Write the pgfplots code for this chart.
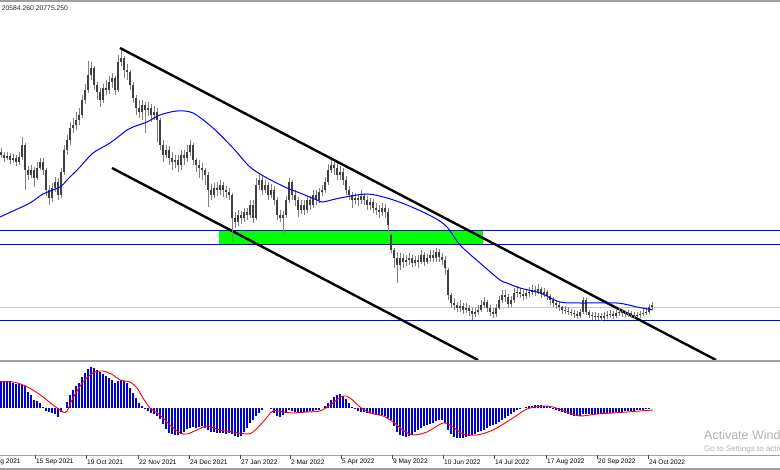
\documentclass[border=0pt]{standalone}
\usepackage{pgfplots}
\pgfplotsset{compat=1.18}
\usepackage{pgfplotstable}
\usepackage{fontspec}
\setmainfont{Liberation Sans}

% candles: x (bar position), open, close, high, low in chart pixel units (down = lower price); m = MACD histogram
\pgfplotstableread{
x o c h l m
1 152 155 148 158 27
4 155 158 152 162 27
7 158 156 152 160 27
10 156 160 153 164 27
13 160 158 154 163 25
16 158 162 155 166 24
19 162 157 152 165 24
22 157 145 137 160 23
25 145 170 143 190 22
28 170 175 166 180 16
31 175 170 165 178 13
34 170 178 167 187 8
37 178 168 162 180 7
40 168 162 158 170 5
43 162 170 158 175 1
46 170 190 168 196 -3
49 190 198 185 205 -4
52 198 188 183 202 -5
55 188 182 177 192 -6
58 182 195 178 200 -9
61 195 172 168 198 -4
64 172 150 145 175 0
67 150 140 135 155 6
70 140 128 122 145 13
73 128 125 118 133 18
76 125 120 112 130 22
79 120 115 108 125 25
82 115 100 95 118 31
85 100 90 84 104 35
88 90 75 61 93 39
91 75 68 62 80 41
94 68 85 66 90 40
97 85 92 82 100 38
100 92 100 88 107 36
103 100 88 84 103 34
106 88 90 80 95 32
109 90 82 76 94 30
112 82 78 73 88 28
115 78 90 76 95 25
118 90 62 55 92 27
121 62 58 50 66 28
124 58 70 56 78 27
127 70 72 64 80 25
130 72 85 70 90 20
133 85 98 82 103 15
136 98 108 95 115 10
139 108 112 100 118 5
142 112 105 100 120 2
145 105 110 102 133 -1
148 110 108 102 116 -3
151 108 115 104 122 -5
154 115 112 106 120 -6
157 112 120 108 142 -8
160 120 145 118 150 -11
163 145 155 140 162 -16
166 155 150 145 158 -21
169 150 158 146 165 -25
172 158 162 152 170 -26
175 162 160 155 168 -27
178 160 165 155 172 -27
181 165 155 150 170 -26
184 155 158 150 165 -24
187 158 152 145 162 -21
190 152 145 140 156 -20
193 145 160 143 165 -19
196 160 165 158 172 -20
199 165 168 160 178 -19
202 168 170 163 180 -18
205 170 175 168 185 -20
208 175 190 172 207 -22
211 190 195 184 200 -24
214 195 188 183 198 -24
217 188 190 182 196 -25
220 190 185 180 195 -25
223 185 190 182 197 -25
226 190 192 186 198 -26
229 192 195 188 200 -25
232 195 218 193 242 -26
235 218 222 212 228 -28
238 222 215 210 226 -29
241 215 218 211 224 -28
244 218 212 208 222 -24
247 212 215 208 220 -20
250 215 205 200 218 -15
253 205 218 200 223 -12
256 218 185 178 220 -8
259 185 180 175 190 -5
262 180 190 176 195 -2
265 190 185 180 193 0
268 185 195 182 200 0
271 195 190 184 198 -1
274 190 200 186 205 -5
277 200 215 197 220 -8
280 215 218 210 222 -9
283 218 215 211 235 -7
286 215 200 196 218 -5
289 200 182 178 203 -2
292 182 195 180 200 -3
295 195 200 190 206 -4
298 200 210 197 217 -5
301 210 205 200 214 -5
304 205 210 200 215 -4
307 210 200 196 213 -4
310 200 205 196 210 -3
313 205 195 190 208 -3
316 195 200 190 205 -2
319 200 192 188 203 -2
322 192 190 185 196 0
325 190 182 177 193 2
328 182 170 164 185 5
331 170 165 160 173 8
334 165 168 162 175 11
337 168 175 163 180 13
340 175 172 166 180 14
343 172 180 168 185 12
346 180 190 176 195 9
349 190 195 186 200 5
352 195 200 192 208 1
355 200 198 193 204 -1
358 198 200 194 206 -3
361 200 196 190 204 -4
364 196 200 193 205 -4
367 200 205 196 210 -5
370 205 202 198 210 -5
373 202 208 199 213 -6
376 208 210 203 215 -6
379 210 212 205 218 -7
382 212 208 203 216 -7
385 208 212 204 218 -8
388 212 225 208 232 -10
391 235 250 233 253 -12
394 250 258 248 268 -18
397 258 265 252 283 -24
400 265 258 253 270 -27
403 258 262 254 268 -28
406 262 260 255 266 -29
409 260 258 253 265 -28
412 258 263 255 267 -27
415 263 260 256 266 -24
418 260 262 255 268 -22
421 262 255 250 264 -20
424 255 262 252 266 -18
427 262 258 254 264 -17
430 258 255 250 262 -16
433 255 258 250 262 -15
436 258 252 248 262 -13
439 252 257 249 262 -12
442 257 260 253 265 -12
445 260 268 256 275 -15
448 270 295 268 300 -22
451 295 303 293 308 -26
454 303 305 298 310 -29
457 305 308 302 312 -30
460 308 306 300 312 -30
463 306 310 303 314 -30
466 310 308 303 313 -29
469 308 311 305 316 -28
472 311 314 308 320 -27
475 314 312 308 317 -26
478 312 310 305 315 -24
481 310 305 300 312 -23
484 305 302 297 308 -22
487 302 308 300 312 -20
490 308 312 305 316 -18
493 312 314 308 318 -17
496 314 308 304 317 -16
499 308 300 296 310 -14
502 300 295 290 303 -12
505 295 297 290 302 -10
508 297 304 294 308 -8
511 304 300 296 307 -6
514 300 293 288 303 -4
517 293 292 286 297 -2
520 292 294 288 298 -1
523 294 296 290 300 0
526 296 293 289 299 1
529 293 292 287 297 2
532 292 290 285 295 2
535 290 292 286 296 3
538 292 289 284 294 3
541 289 294 287 298 3
544 294 292 288 297 2
547 292 296 290 300 2
550 296 300 294 305 1
553 300 303 297 307 -1
556 303 305 300 309 -2
559 305 307 302 311 -3
562 307 310 306 314 -4
565 310 311 306 314 -5
568 311 312 307 315 -6
571 312 313 309 316 -7
574 313 314 310 318 -8
577 314 316 311 319 -8
580 316 312 309 318 -8
583 312 300 297 314 -6
586 300 312 298 315 -6
589 312 315 310 318 -6
592 315 316 312 320 -6
595 316 317 312 320 -6
598 317 316 313 320 -6
601 316 318 313 321 -6
604 318 316 312 320 -5
607 316 315 311 319 -5
610 315 314 310 318 -5
613 314 316 311 319 -5
616 316 313 310 318 -4
619 313 312 308 316 -4
622 312 313 309 317 -4
625 313 314 310 317 -3
628 314 313 310 317 -3
631 313 315 311 318 -3
634 315 316 312 319 -3
637 316 315 312 318 -2
640 315 314 311 318 -2
643 314 313 309 316 -2
646 313 312 308 315 -1
649 312 307 304 314 -1
652 307 305 302 309 0
}\candles

\pgfplotstableread{
x y
0 217
13 211
30 203
43 194
60 187
67 180
80 167
93 153
110 143
127 130
133 127
147 122
160 115
177 111
193 113
213 128
233 148
250 167
267 178
287 188
300 193
317 200
323 202
340 198
367 194
387 198
407 205
433 217
447 227
460 245
480 263
500 280
507 283
520 288
540 293
560 302
580 303
617 303
637 307
653 310
}\ma

\pgfplotstableread{
x s
0 26
13 26
23 23
33 18
43 11
53 3
63 -4
67 -3
73 10
83 26
93 35
103 37
113 33
120 28
130 26
137 20
143 10
150 0
160 -7
170 -17
180 -25
187 -26
197 -22
207 -18
220 -22
233 -24
247 -26
253 -24
263 -14
273 -3
283 -4
293 -5
307 -4
320 -3
330 3
343 12
350 10
360 1
370 -5
383 -8
393 -14
403 -22
413 -27
427 -24
443 -15
453 -19
463 -26
477 -27
493 -22
513 -10
527 -1
543 2
553 1
567 -4
580 -8
597 -6
613 -5
627 -4
653 -2
}\signal

\definecolor{mtblue}{RGB}{0,0,255}
\definecolor{mtgreen}{RGB}{0,255,0}
\definecolor{mtgray}{RGB}{160,160,160}
\definecolor{asklin}{RGB}{200,200,200}

\begin{document}
\begin{tikzpicture}
\begin{axis}[at={(0pt,0pt)}, anchor=south west, scale only axis,
  width=780pt, height=470pt, xmin=0, xmax=780, ymin=0, ymax=470,
  y dir=reverse, axis lines=none, xtick=\empty, ytick=\empty]
% levels
\addplot[fill=mtgreen, draw=none, forget plot] coordinates {(219,231) (483,231) (483,245) (219,245) (219,231)};
\addplot[color=asklin, line width=0.8pt, forget plot] coordinates {(0,307) (780,307)};
\addplot[color=mtblue, line width=1pt, forget plot] coordinates {(0,231) (780,231)};
\addplot[color=mtblue, line width=1pt, forget plot] coordinates {(0,245) (780,245)};
\addplot[color=mtblue, line width=1pt, forget plot] coordinates {(0,320.5) (780,320.5)};
% channel
\addplot[black, line width=2.4pt, forget plot] coordinates {(120,48) (716,360)};
\addplot[black, line width=2.4pt, forget plot] coordinates {(112,168) (478,360)};
% candles: wicks then bodies
\addplot[draw=none, mark=none, forget plot, error bars/.cd, y dir=both, y explicit, error mark=none,
  error bar style={line width=0.6pt, draw=black!50}]
  table[x=x, y expr={(\thisrow{h}+\thisrow{l})/2}, y error expr={(\thisrow{l}-\thisrow{h})/2}] {\candles};
\addplot[draw=none, mark=none, forget plot, error bars/.cd, y dir=both, y explicit, error mark=none,
  error bar style={line width=1.2pt, draw=black!75}]
  table[x=x, y expr={(\thisrow{o}+\thisrow{c})/2}, y error expr={max(abs(\thisrow{o}-\thisrow{c})/2,0.6)}] {\candles};
% moving average
\addplot[color=mtblue, line width=1pt, smooth, forget plot] table[x=x, y=y] {\ma};
% frame lines
\addplot[color=mtgray, line width=2pt, forget plot] coordinates {(0,1) (780,1)};
\addplot[color=mtgray, line width=1.8pt, forget plot] coordinates {(0,361) (780,361)};
\addplot[color=mtgray, line width=0.9pt, forget plot] coordinates {(0,455) (780,455)};
\addplot[color=mtgray, line width=2pt, forget plot] coordinates {(0,469.5) (780,469.5)};
\node[anchor=west, font=\fontsize{6.8}{8}\selectfont, text=black!85, inner sep=0pt, overlay] at (axis cs:-4,8.5) {0 20584.260 20775.250};
\pgfplotsinvokeforeach{-16,35,86,138,189,240,290,341,392,443,494,546,597,648}{
  \draw[black!70, line width=0.6pt, overlay] (axis cs:#1,455) -- (axis cs:#1,459);
}
\node[anchor=west, font=\fontsize{6.6}{8}\selectfont, inner sep=0pt, overlay] at (axis cs:-17,462) {12 Aug 2021};
\node[anchor=west, font=\fontsize{6.6}{8}\selectfont, inner sep=0pt] at (axis cs:36,462) {15 Sep 2021};
\node[anchor=west, font=\fontsize{6.6}{8}\selectfont, inner sep=0pt] at (axis cs:87,462) {19 Oct 2021};
\node[anchor=west, font=\fontsize{6.6}{8}\selectfont, inner sep=0pt] at (axis cs:139,462) {22 Nov 2021};
\node[anchor=west, font=\fontsize{6.6}{8}\selectfont, inner sep=0pt] at (axis cs:190,462) {24 Dec 2021};
\node[anchor=west, font=\fontsize{6.6}{8}\selectfont, inner sep=0pt] at (axis cs:241,462) {27 Jan 2022};
\node[anchor=west, font=\fontsize{6.6}{8}\selectfont, inner sep=0pt] at (axis cs:291,462) {2 Mar 2022};
\node[anchor=west, font=\fontsize{6.6}{8}\selectfont, inner sep=0pt] at (axis cs:342,462) {5 Apr 2022};
\node[anchor=west, font=\fontsize{6.6}{8}\selectfont, inner sep=0pt] at (axis cs:393,462) {9 May 2022};
\node[anchor=west, font=\fontsize{6.6}{8}\selectfont, inner sep=0pt] at (axis cs:444,462) {10 Jun 2022};
\node[anchor=west, font=\fontsize{6.6}{8}\selectfont, inner sep=0pt] at (axis cs:495,462) {14 Jul 2022};
\node[anchor=west, font=\fontsize{6.6}{8}\selectfont, inner sep=0pt] at (axis cs:547,462) {17 Aug 2022};
\node[anchor=west, font=\fontsize{6.6}{8}\selectfont, inner sep=0pt] at (axis cs:598,462) {20 Sep 2022};
\node[anchor=west, font=\fontsize{6.6}{8}\selectfont, inner sep=0pt] at (axis cs:649,462) {24 Oct 2022};
\node[anchor=west, font=\fontsize{12.5}{14}\selectfont, text=black!30, inner sep=0pt, overlay] at (axis cs:704,435) {Activate Windows};
\node[anchor=west, font=\fontsize{8}{9}\selectfont, text=black!30, inner sep=0pt, overlay] at (axis cs:704,449) {Go to Settings to activate Windows.};
\end{axis}
\begin{axis}[at={(0pt,17pt)}, anchor=south west, scale only axis,
  width=780pt, height=92pt, xmin=0, xmax=780, ymin=-45, ymax=47,
  axis lines=none, xtick=\empty, ytick=\empty]
\addplot[ycomb, color=mtblue!85!black, line width=1.8pt, mark=none] table[x=x, y=m] {\candles};
\addplot[color=red, line width=0.9pt, smooth, mark=none] table[x=x, y=s] {\signal};
\end{axis}
\end{tikzpicture}
\end{document}
